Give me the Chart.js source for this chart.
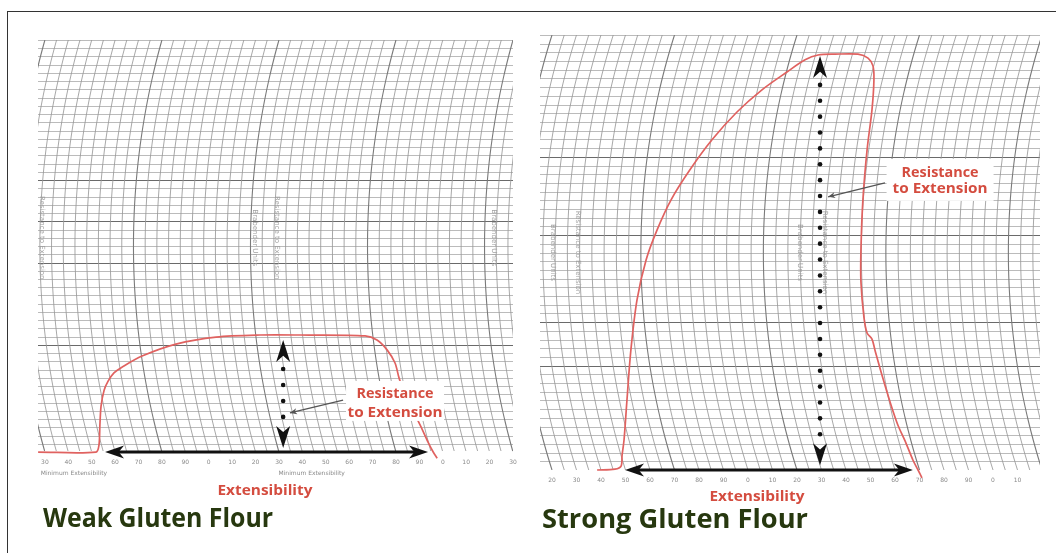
<!DOCTYPE html>
<html>
<head>
<meta charset="utf-8">
<script src="https://cdn.jsdelivr.net/npm/chart.js@4.4.1/dist/chart.umd.min.js"></script>
<style>
  html, body { margin: 0; padding: 0; background: #fff; }
  body { width: 1056px; height: 553px; position: relative; overflow: hidden; }
  #frame { position: absolute; left: 7px; top: 11px; width: 1100px; height: 600px;
           border-left: 1.5px solid #333; border-top: 1.5px solid #333; }
  canvas { position: absolute; top: 0; }
  #weak { left: 0; }
  #strong { left: 528px; }
</style>
</head>
<body>
<div id="frame"></div>
<canvas id="weak" width="528" height="553"></canvas>
<canvas id="strong" width="528" height="553"></canvas>
<script>
// extensibility (chart units) and resistance (BU)
const weakExt = [-2.9, 21.8, 23.1, 23.5, 24, 25.3, 27, 29.5, 32.9, 41.5, 56, 73.1, 91.9, 109, 136.8, 141.9, 146.2, 149.6, 151.3, 153.9, 157.3, 160.7, 163.7, 165.9, 167.6]
const weakRes = [0, 0, 17, 66, 112, 150, 172, 192, 206, 233, 262, 279, 284, 284, 282, 272, 248, 216, 180, 138, 100, 61, 24, 0, -15]

const strongExt = [18.4, 25.7, 28.2, 28.6, 29.4, 30.6, 32.2, 34.7, 38.4, 42.9, 48.6, 56.3, 65.3, 75.5, 85.7, 95.9, 103.3, 108.6, 115.5, 124.9, 129, 131, 131.4, 130.6, 128.6, 126.9, 126.1, 126.1, 127.3, 128.6, 130.6, 131.8, 134.7, 138.4, 141.2, 144.1, 147.3, 149.4, 151]
const strongRes = [0, 2, 9, 34, 69, 161, 276, 391, 483, 552, 621, 690, 759, 823, 874, 915, 943, 954, 956, 956, 947, 929, 897, 828, 736, 621, 506, 432, 352, 315, 301, 276, 218, 149, 103, 67, 23, 0, -18]

// chart paper tick labels (every 10 units from 0)
const weakTicks = ['30','40','50','60','70','80','90','0','10','20','30','40','50','60','70','80','90','0','10','20','30']
const strongTicks = ['20','30','40','50','60','70','80','90','0','10','20','30','40','50','60','70','80','90','0','10']

// annotation arrows: [ext start, ext end] at 0 BU, and [ext, top BU, bottom BU]
const weakExtArrow = [25.7, 163.7]
const weakResArrow = [101.8, 272, 10]
const strongExtArrow = [29.8, 147.3]
const strongResArrow = [109.4, 952, 11]

// "Resistance to Extension" callouts: label point and pointer [from ext, from BU, to ext, to BU]
const weakCallout = { at: [149.6, 124], pointer: [127.4, 126, 104.7, 95] }
const strongCallout = { at: [158.4, 667], pointer: [135.9, 660, 112.7, 628] }

const RED = 'rgb(224, 98, 96)'
const LABEL_RED = '#d44c3f'
const GREEN = '#27380f'

function fitText(ctx, str, x, yBase, size, w, color, align) {
  ctx.save()
  ctx.font = 'bold ' + size + 'px "Open Sans", sans-serif'
  const m = ctx.measureText(str).width
  ctx.translate(x, yBase)
  ctx.scale(w / m, 1)
  ctx.fillStyle = color
  ctx.textAlign = align
  ctx.textBaseline = 'alphabetic'
  ctx.fillText(str, 0, 0)
  ctx.restore()
}

function dart(ctx, tx, ty, ang, len, hw) {
  ctx.save()
  ctx.translate(tx, ty)
  ctx.rotate(ang)
  ctx.beginPath()
  ctx.moveTo(0, 0)
  ctx.lineTo(-len, -hw)
  ctx.lineTo(-len * 0.72, 0)
  ctx.lineTo(-len, hw)
  ctx.closePath()
  ctx.fill()
  ctx.restore()
}

const paperPlugin = {
  id: 'paper',
  beforeDatasetsDraw(chart, args, o) {
    const { ctx, chartArea: a, scales: { x, y } } = chart
    const y0 = y.getPixelForValue(0)
    const yTop = y.getPixelForValue(1000)
    ctx.save()
    ctx.beginPath()
    ctx.rect(a.left, yTop, a.right - a.left, y0 - yTop)
    ctx.clip()

    // horizontal rulings
    for (let v = 0; v <= 1000; v += 20) {
      const py = Math.round(y.getPixelForValue(v)) + 0.5
      const major = o.darkRows.includes(v)
      ctx.strokeStyle = major ? '#6a6a6a' : '#a9a9a9'
      ctx.lineWidth = major ? 1.2 : 0.8
      ctx.beginPath()
      ctx.moveTo(a.left, py)
      ctx.lineTo(a.right, py)
      ctx.stroke()
    }

    // curved rulings of the recorder arm
    const R = o.radius
    const yc = (y0 + yTop) / 2
    const sag = py => R - Math.sqrt(R * R - (py - yc) * (py - yc))
    for (let u = Math.ceil(x.min / 5) * 5; u <= x.max + 40; u += 5) {
      const xb = x.getPixelForValue(u)
      const major = u % 50 === 0
      ctx.strokeStyle = major ? '#7a7a7a' : '#989898'
      ctx.lineWidth = major ? 1.1 : 0.85
      ctx.beginPath()
      for (let py = yTop; py <= y0 + 0.1; py += 3) {
        const px = xb - (sag(y0) - sag(py))
        if (py === yTop) ctx.moveTo(px, py)
        else ctx.lineTo(px, py)
      }
      ctx.stroke()
    }

    // faint printed captions on the paper
    ctx.fillStyle = '#a0a0a0'
    ctx.font = '7px "DejaVu Sans", sans-serif'
    ctx.textAlign = 'center'
    ctx.textBaseline = 'middle'
    o.captions.forEach(c => {
      ctx.save()
      ctx.translate(x.getPixelForValue(c[0]), y.getPixelForValue(c[1]))
      ctx.rotate(Math.PI / 2)
      ctx.fillText(c[2], 0, 0)
      ctx.restore()
    })
    ctx.restore()

    // tick labels
    ctx.save()
    ctx.fillStyle = '#8a8a8a'
    ctx.font = '6px "DejaVu Sans", sans-serif'
    ctx.textAlign = 'center'
    ctx.textBaseline = 'middle'
    o.ticks.forEach((t, i) => {
      ctx.fillText(t, x.getPixelForValue(i * 10), y0 + 10)
    })
    o.notes.forEach(n => ctx.fillText(n[1], x.getPixelForValue(n[0]), y0 + 21))
    ctx.restore()
  },
  afterDatasetsDraw(chart, args, o) {
    const { ctx, scales: { x, y } } = chart
    ctx.save()

    // callout box and text
    const cx = x.getPixelForValue(o.callout.at[0])
    const cy = y.getPixelForValue(o.callout.at[1])
    ctx.fillStyle = '#fff'
    ctx.fillRect(cx - o.box[0] / 2, cy - o.box[1] / 2, o.box[0], o.box[1])
    fitText(ctx, 'Resistance', cx, cy - 3, 14, 77, LABEL_RED, 'center')
    fitText(ctx, 'to Extension', cx, cy - 3 + o.gap, 14, 95, LABEL_RED, 'center')

    // pointer
    const p = o.callout.pointer
    const x1 = x.getPixelForValue(p[0]), y1 = y.getPixelForValue(p[1])
    const x2 = x.getPixelForValue(p[2]), y2 = y.getPixelForValue(p[3])
    ctx.strokeStyle = '#555'
    ctx.fillStyle = '#555'
    ctx.lineWidth = 1.3
    ctx.beginPath()
    ctx.moveTo(x1, y1)
    ctx.lineTo(x2, y2)
    ctx.stroke()
    dart(ctx, x2, y2, Math.atan2(y2 - y1, x2 - x1), 7, 3)

    // extensibility arrow
    ctx.fillStyle = '#111'
    ctx.strokeStyle = '#111'
    const ya = y.getPixelForValue(0)
    const xl = x.getPixelForValue(o.extArrow[0])
    const xr = x.getPixelForValue(o.extArrow[1])
    ctx.lineWidth = 3
    ctx.beginPath()
    ctx.moveTo(xl + 10, ya)
    ctx.lineTo(xr - 10, ya)
    ctx.stroke()
    dart(ctx, xl, ya, Math.PI, 19, 6.5)
    dart(ctx, xr, ya, 0, 19, 6.5)

    // resistance arrow (dotted)
    const xv = x.getPixelForValue(o.resArrow[0])
    const yt = y.getPixelForValue(o.resArrow[1])
    const yb = y.getPixelForValue(o.resArrow[2])
    dart(ctx, xv, yt, -Math.PI / 2, 22, 7)
    dart(ctx, xv, yb, Math.PI / 2, 22, 7)
    const first = yt + 29, last = yb - 31
    const n = Math.max(1, Math.round((last - first) / 16))
    for (let i = 0; i <= n; i++) {
      ctx.beginPath()
      ctx.arc(xv, first + (last - first) * i / n, 2.3, 0, Math.PI * 2)
      ctx.fill()
    }
    ctx.restore()

    // axis caption and chart title
    fitText(ctx, 'Extensibility', o.axisTitle[0], o.axisTitle[1], 14, 95, LABEL_RED, 'center')
    fitText(ctx, o.title[0], o.title[1], o.title[2], 27, o.title[3], GREEN, 'left')
  }
}

function makeChart(id, ext, res, xMin, xMax, padding, paper) {
  return new Chart(document.getElementById(id), {
    type: 'scatter',
    data: {
      datasets: [{
        data: ext.map((v, i) => ({ x: v, y: res[i] })),
        showLine: true,
        borderColor: RED,
        borderWidth: 1.7,
        pointRadius: 0,
        tension: 0.3,
        clip: 12
      }]
    },
    options: {
      responsive: false,
      animation: false,
      layout: { padding: padding },
      plugins: { legend: { display: false }, tooltip: { enabled: false }, paper: paper },
      scales: {
        x: { type: 'linear', min: xMin, max: xMax, display: false },
        y: { type: 'linear', min: -30, max: 1000, display: false }
      }
    },
    plugins: [paperPlugin]
  })
}

makeChart('weak', weakExt, weakRes, -2.95, 200, { left: 38, right: 15, top: 40, bottom: 88.6 }, {
  radius: 760,
  darkRows: [260, 460, 560, 660],
  ticks: weakTicks,
  notes: [[12.4, 'Minimum Extensibility'], [114, 'Minimum Extensibility']],
  captions: [[-1.2, 520, 'Resistance to Extension'], [89.8, 520, 'Brabender Units'], [99.2, 520, 'Resistance to Extension'], [191.9, 520, 'Brabender Units']],
  callout: weakCallout, box: [98, 40], gap: 19,
  extArrow: weakExtArrow, resArrow: weakResArrow,
  axisTitle: [265, 495],
  title: ['Weak Gluten Flour', 43, 527, 230]
})

makeChart('strong', strongExt, strongRes, -4.898, 199.18, { left: 12, right: 16, top: 35, bottom: 69.95 }, {
  radius: 720,
  darkRows: [240, 340, 540, 720],
  ticks: strongTicks,
  notes: [],
  captions: [[0.4, 500, 'Brabender Units'], [10.6, 500, 'Resistance to Extension'], [101.2, 500, 'Brabender Units'], [111.4, 500, 'Resistance to Extension']],
  callout: strongCallout, box: [107, 42], gap: 16,
  extArrow: strongExtArrow, resArrow: strongResArrow,
  axisTitle: [229, 501],
  title: ['Strong Gluten Flour', 14, 528, 266]
})
</script>
</body>
</html>
